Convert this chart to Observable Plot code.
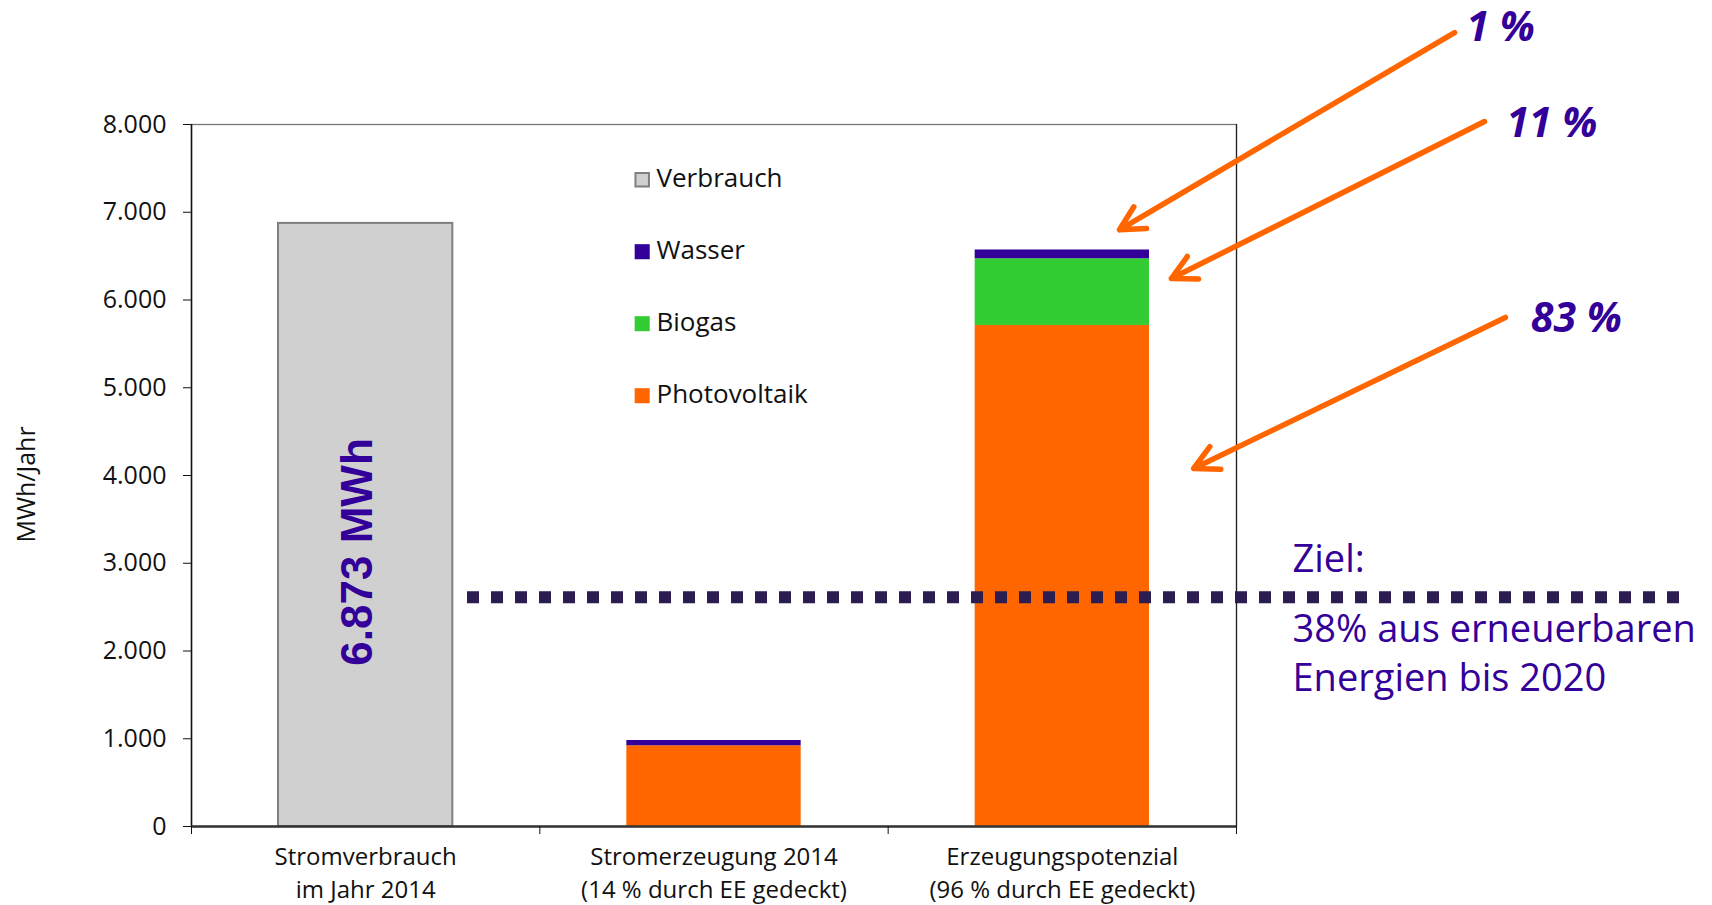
<!DOCTYPE html>
<html>
<head>
<meta charset="utf-8">
<script src="https://cdn.jsdelivr.net/npm/d3@7"></script>
<script src="https://cdn.jsdelivr.net/npm/@observablehq/plot@0.6"></script>
<style>
  html, body { margin: 0; padding: 0; background: #fff; }
  #chart svg { display: block; overflow: visible; }
</style>
</head>
<body>
<div id="chart"></div>
<script>
// Categories (x positions are their index, 0..2)
const categories = ["Stromverbrauch im Jahr 2014", "Stromerzeugung 2014", "Erzeugungspotenzial"];
const categoryLabels = [
  "Stromverbrauch\nim Jahr 2014",
  "Stromerzeugung 2014\n(14 % durch EE gedeckt)",
  "Erzeugungspotenzial\n(96 % durch EE gedeckt)"
];

// MWh per year
const verbrauch    = [6873, 0, 0];
const photovoltaik = [0, 920, 5710];
const biogas       = [0, 0, 760];
const wasser       = [0, 60, 100];

const sources = ["Verbrauch", "Wasser", "Biogas", "Photovoltaik"];
const sourceColors = ["#d0d0d0", "#330099", "#33cc33", "#ff6600"];

const yTicks = [0, 1000, 2000, 3000, 4000, 5000, 6000, 7000, 8000];

// Target: share of consumption from renewables
const targetShare = 0.38;
const targetYear = 2020;

// Callouts for the potential bar: label anchor, arrow tail and arrow tip
// (x in category units, y in MWh)
const calloutSources = ["Wasser", "Biogas", "Photovoltaik"];
const calloutLabelX = [3.66, 3.775, 3.845];
const calloutLabelY = [8949, 7855, 5630];
const calloutTailX  = [3.626, 3.712, 3.772];
const calloutTailY  = [9048, 8034, 5801];
const calloutTipX   = [2.664, 2.813, 2.877];
const calloutTipY   = [6800, 6245, 4080];

// German number format: 6.873
const fmt = d3.formatLocale({decimal: ",", thousands: ".", grouping: [3], currency: ["", " €"]}).format(",");

const consumption = categories
  .map((c, i) => ({category: i, value: verbrauch[i]}))
  .filter(d => d.value > 0);

const generation = categories.flatMap((c, i) => [
  {category: i, source: "Photovoltaik", value: photovoltaik[i]},
  {category: i, source: "Biogas", value: biogas[i]},
  {category: i, source: "Wasser", value: wasser[i]}
]).filter(d => d.value > 0);

const potentialIndex = 2;
const seriesBySource = {Photovoltaik: photovoltaik, Biogas: biogas, Wasser: wasser};
const callouts = calloutSources.map((s, i) => ({
  label: `${Math.round(seriesBySource[s][potentialIndex] / verbrauch[0] * 100)} %`,
  labelX: calloutLabelX[i], labelY: calloutLabelY[i],
  tailX: calloutTailX[i], tailY: calloutTailY[i],
  tipX: calloutTipX[i], tipY: calloutTipY[i]
}));

const target = verbrauch[0] * targetShare;
const purple = "#330099";
const textFont = "'Open Sans', 'Noto Sans', sans-serif";

const legendMarks = sources.flatMap((s, i) => [
  Plot.dot([s], {
    frameAnchor: "top-left", dx: 450.7, dy: 55.2 + 72 * i,
    symbol: "square", r: i === 0 ? 7.6 : 8.5,
    fill: sourceColors[i],
    stroke: i === 0 ? "#7f7f7f" : "none", strokeWidth: 2
  }),
  Plot.text([s], {
    frameAnchor: "top-left", dx: 465, dy: 62.7 + 72 * i,
    text: d => d, textAnchor: "start", lineAnchor: "bottom",
    fontSize: 26, fill: "#111"
  })
]);

const chart = Plot.plot({
  width: 1712,
  height: 905,
  marginLeft: 191,
  marginRight: 476,
  marginTop: 124,
  marginBottom: 79,
  style: {fontFamily: textFont, fontSize: "25px", background: "#fff", color: "#111", overflow: "visible"},
  x: {domain: [0, categories.length]},
  y: {domain: [0, 8000]},
  color: {domain: sources, range: sourceColors},
  marks: [
    // consumption bar
    Plot.rectY(consumption, {
      x: "category", interval: 1, y: "value",
      fill: sourceColors[0], stroke: "#7f7f7f", strokeWidth: 2,
      insetLeft: 87, insetRight: 87
    }),
    // stacked generation bars
    Plot.rectY(generation, {
      x: "category", interval: 1, y: "value", fill: "source",
      insetLeft: 87, insetRight: 87
    }),
    // plot frame
    Plot.frame({stroke: "#777", strokeWidth: 1.3}),
    Plot.ruleX([0], {stroke: "#111", strokeWidth: 1.5}),
    Plot.ruleX([categories.length], {stroke: "#222", strokeWidth: 1.2}),
    Plot.ruleY([0], {stroke: "#333", strokeWidth: 2.5}),
    // axes
    Plot.axisY({
      ticks: yTicks, tickFormat: fmt, tickSize: 8, tickPadding: 17,
      fontSize: 25, label: null
    }),
    Plot.axisX({
      ticks: d3.range(categories.length + 1), tickSize: 8,
      tickFormat: () => "", label: null
    }),
    Plot.axisX({
      ticks: categories.map((c, i) => i + 0.5), tickSize: 0, tickPadding: 15,
      tickFormat: d => categoryLabels[Math.floor(d)],
      fontSize: 24, lineHeight: 1.38, label: null
    }),
    Plot.text(["MWh/Jahr"], {
      frameAnchor: "left", textAnchor: "middle", rotate: -90, dx: -165, dy: 9,
      fontSize: 25, fill: "#111"
    }),
    // value inside the consumption bar
    Plot.text(consumption, {
      x: d => d.category + 0.5, y: d => d.value / 2,
      text: d => `${fmt(d.value)} MWh`,
      rotate: -90, dx: -8, dy: 27,
      fontSize: 44, fontWeight: "bold",
      fontFamily: "'Liberation Sans', Arial, sans-serif", fill: purple
    }),
    // 38 % target line
    Plot.ruleY([target], {
      stroke: "#2b1d50", strokeWidth: 12, strokeDasharray: "12,12",
      insetLeft: 276, insetRight: -444
    }),
    Plot.text(["Ziel:"], {
      x: categories.length, y: target, text: d => d,
      dx: 56, dy: -25, textAnchor: "start", lineAnchor: "bottom",
      fontSize: 38, fill: purple
    }),
    Plot.text([`${Math.round(targetShare * 100)}% aus erneuerbaren\nEnergien bis ${targetYear}`], {
      x: categories.length, y: target, text: d => d,
      dx: 56, dy: 94, textAnchor: "start", lineAnchor: "bottom",
      lineHeight: 1.29, fontSize: 38, fill: purple
    }),
    // callout arrows and shares
    Plot.arrow(callouts, {
      x1: "tailX", y1: "tailY", x2: "tipX", y2: "tipY",
      stroke: "#ff6600", strokeWidth: 5.5, headLength: 7.4, headAngle: 55,
      strokeLinecap: "round"
    }),
    Plot.text(callouts, {
      x: "labelX", y: "labelY", text: "label",
      textAnchor: "start", lineAnchor: "bottom",
      fontSize: 41, fontWeight: "bold", fontStyle: "italic", fill: purple
    }),
    ...legendMarks
  ]
});

document.getElementById("chart").append(chart);
</script>
</body>
</html>
